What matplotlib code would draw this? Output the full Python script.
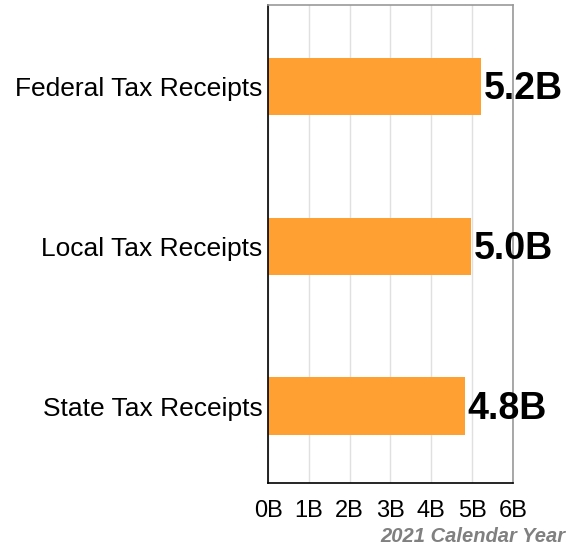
import matplotlib.pyplot as plt

plt.rcParams['font.family'] = ['Liberation Sans', 'DejaVu Sans']

categories = ['State Tax Receipts', 'Local Tax Receipts', 'Federal Tax Receipts']
values = [4.83, 4.98, 5.22]
value_labels = ['4.8B', '5.0B', '5.2B']
xticks = [0, 1, 2, 3, 4, 5, 6]
xtick_labels = ['0B', '1B', '2B', '3B', '4B', '5B', '6B']

fig = plt.figure(figsize=(5.67, 5.49), dpi=100)
ax = fig.add_axes([0.4727, 0.1202, 0.432, 0.8707])

ax.barh(range(len(categories)), values, height=0.36, color='#FFA033', zorder=2)
for i, (v, lab) in enumerate(zip(values, value_labels)):
    ax.text(v + 0.06, i - 0.015, lab, va='center', ha='left', fontsize=27,
            fontweight='bold', color='black', zorder=3)

ax.set_xlim(0, 6)
ax.set_ylim(-0.48, 2.51)
ax.set_xticks(xticks)
ax.set_xticklabels(xtick_labels, fontsize=17)
ax.set_yticks(range(len(categories)))
ax.set_yticklabels(categories, fontsize=19)
ax.tick_params(length=0, pad=4)
ax.tick_params(axis='x', pad=12)
ax.grid(axis='x', color='#e0e0e0', linewidth=1, zorder=0)

ax.spines['left'].set_color('black')
ax.spines['bottom'].set_color('black')
ax.spines['top'].set_color('#999999')
ax.spines['right'].set_color('#999999')
for s in ax.spines.values():
    s.set_linewidth(1.2)

fig.text(0.997, 0.006, '2021 Calendar Year', ha='right', va='bottom',
         fontsize=14.5, fontweight='bold', style='italic', color='#808080')

fig.savefig('out.png', dpi=100)
